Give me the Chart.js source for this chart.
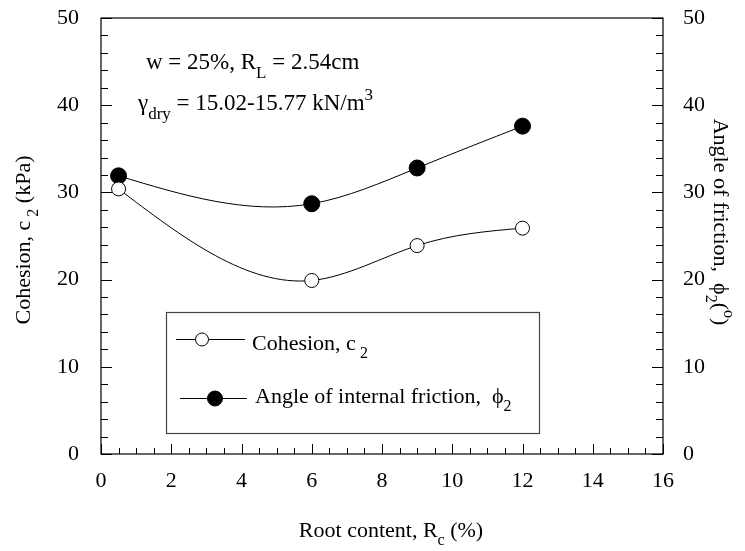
<!DOCTYPE html>
<html>
<head>
<meta charset="utf-8">
<script src="https://cdn.jsdelivr.net/npm/chart.js@4.4.1/dist/chart.umd.min.js"></script>
<style>
  html, body { margin: 0; padding: 0; background: #fff; }
  #wrap { width: 745px; height: 551px; }
</style>
</head>
<body>
<div id="wrap"><canvas id="chart" width="745" height="551"></canvas></div>
<script>
// data
const rootContent = [0.5, 6, 9, 12];
const cohesion = [30.4, 19.9, 23.9, 25.9];
const friction = [31.9, 28.7, 32.8, 37.6];

const xTicks = [0, 2, 4, 6, 8, 10, 12, 14, 16];
const yTicks = [0, 10, 20, 30, 40, 50];

const FONT = "'Liberation Serif', 'Times New Roman', serif";
const PHI = "\u03d5";

// draw text made of plain / sub / sup parts
const richWidth = (ctx, parts, size) => {
  let w = 0;
  parts.forEach((p) => {
    ctx.font = `${p.s ? Math.round(size * 0.72) : size}px ${FONT}`;
    w += ctx.measureText(p.t).width;
  });
  return w;
};

const drawRich = (ctx, parts, x, y, size, align) => {
  const w = richWidth(ctx, parts, size);
  let cx = align === "center" ? x - w / 2 : x;
  ctx.textBaseline = "alphabetic";
  ctx.textAlign = "left";
  parts.forEach((p) => {
    const fs = p.s ? Math.round(size * 0.72) : size;
    ctx.font = `${fs}px ${FONT}`;
    let dy = 0;
    if (p.s === "sub") dy = size * 0.38;
    if (p.s === "sup") dy = -size * 0.45;
    ctx.fillText(p.t, cx, y + dy);
    cx += ctx.measureText(p.t).width;
  });
};

const drawMarker = (ctx, x, y, r, filled) => {
  ctx.beginPath();
  ctx.arc(x, y, r, 0, Math.PI * 2);
  ctx.fillStyle = filled ? "#000" : "#fff";
  ctx.fill();
  ctx.lineWidth = 1;
  ctx.strokeStyle = "#000";
  ctx.stroke();
};

// slopes of a natural cubic spline through (xs, ys)
const naturalSlopes = (xs, ys) => {
  const n = xs.length;
  const h = [], d = [];
  for (let i = 0; i < n - 1; i++) {
    h.push(xs[i + 1] - xs[i]);
    d.push((ys[i + 1] - ys[i]) / h[i]);
  }
  const M = new Array(n).fill(0);
  if (n > 2) {
    const a = [], b = [], c = [], r = [];
    for (let i = 1; i < n - 1; i++) {
      a.push(h[i - 1]);
      b.push(2 * (h[i - 1] + h[i]));
      c.push(h[i]);
      r.push(6 * (d[i] - d[i - 1]));
    }
    const m = b.length;
    for (let i = 1; i < m; i++) {
      const w = a[i] / b[i - 1];
      b[i] -= w * c[i - 1];
      r[i] -= w * r[i - 1];
    }
    const sol = new Array(m);
    sol[m - 1] = r[m - 1] / b[m - 1];
    for (let i = m - 2; i >= 0; i--) sol[i] = (r[i] - c[i] * sol[i + 1]) / b[i];
    for (let i = 0; i < m; i++) M[i + 1] = sol[i];
  }
  const s = [];
  for (let i = 0; i < n - 1; i++) s.push(d[i] - (h[i] * (2 * M[i] + M[i + 1])) / 6);
  s.push(d[n - 2] + (h[n - 2] * (M[n - 2] + 2 * M[n - 1])) / 6);
  return { s, h };
};

// replace Chart.js bezier control points with natural-spline ones
const splinePlugin = {
  id: "naturalSpline",
  beforeDatasetsDraw(chart) {
    chart.data.datasets.forEach((ds, i) => {
      const meta = chart.getDatasetMeta(i);
      const pts = meta.data;
      meta.dataset.updateControlPoints(chart.chartArea, meta.iScale.axis);
      const { s, h } = naturalSlopes(pts.map((p) => p.x), pts.map((p) => p.y));
      pts.forEach((p, k) => {
        const hb = k > 0 ? h[k - 1] : 0;
        const ha = k < pts.length - 1 ? h[k] : 0;
        p.cp1x = p.x - hb / 3;
        p.cp1y = p.y - (s[k] * hb) / 3;
        p.cp2x = p.x + ha / 3;
        p.cp2y = p.y + (s[k] * ha) / 3;
      });
    });
  },
};

const framePlugin = {
  id: "frame",
  afterDraw(chart) {
    const { ctx, chartArea: a, scales } = chart;
    const xs = scales.x, ys = scales.y;
    ctx.save();
    ctx.strokeStyle = "#000";
    ctx.fillStyle = "#000";
    ctx.lineWidth = 1.2;
    ctx.strokeRect(a.left, a.top, a.right - a.left, a.bottom - a.top);

    // inward ticks
    ctx.lineWidth = 1;
    ctx.beginPath();
    for (let v = 0; v <= 16; v += 0.5) {
      const px = Math.round(xs.getPixelForValue(v)) + 0.5;
      const len = v % 2 === 0 ? 10 : 6;
      ctx.moveTo(px, a.bottom);
      ctx.lineTo(px, a.bottom - len);
    }
    for (let v = 0; v <= 50; v += 2) {
      const py = Math.round(ys.getPixelForValue(v)) + 0.5;
      const len = v % 10 === 0 ? 11 : 7;
      ctx.moveTo(a.left, py);
      ctx.lineTo(a.left + len, py);
      ctx.moveTo(a.right, py);
      ctx.lineTo(a.right - len, py);
    }
    ctx.stroke();

    // axis titles
    drawRich(ctx, [{ t: "Root content, R" }, { t: "c", s: "sub" }, { t: " (%)" }], 391, 537, 22, "center");

    ctx.save();
    ctx.translate(30, 240);
    ctx.rotate(-Math.PI / 2);
    drawRich(ctx, [{ t: "Cohesion, c" }, { t: " 2", s: "sub" }, { t: " (kPa)" }], 0, 0, 22, "center");
    ctx.restore();

    ctx.save();
    ctx.translate(714, 222);
    ctx.rotate(Math.PI / 2);
    drawRich(ctx, [{ t: "Angle of friction,  " + PHI }, { t: "2", s: "sub" }, { t: "(" }, { t: "o", s: "sup" }, { t: ")" }], 0, 0, 22, "center");
    ctx.restore();

    // annotations
    drawRich(ctx, [{ t: "w = 25%, R" }, { t: "L", s: "sub" }, { t: " = 2.54cm" }], 146, 69, 23, "left");
    drawRich(ctx, [{ t: "\u03b3" }, { t: "dry", s: "sub" }, { t: " = 15.02-15.77 kN/m" }, { t: "3", s: "sup" }], 138, 110, 23, "left");

    // legend box
    ctx.fillStyle = "#fff";
    ctx.fillRect(166, 312, 373, 121);
    ctx.strokeStyle = "#444";
    ctx.lineWidth = 1.2;
    ctx.strokeRect(166.5, 312.5, 373, 121);
    ctx.strokeStyle = "#000";
    ctx.lineWidth = 1;
    ctx.beginPath();
    ctx.moveTo(176, 339.5); ctx.lineTo(245, 339.5);
    ctx.moveTo(180, 398.5); ctx.lineTo(247, 398.5);
    ctx.stroke();
    drawMarker(ctx, 202, 339.5, 6.5, false);
    drawMarker(ctx, 215, 398.5, 7.5, true);
    ctx.fillStyle = "#000";
    drawRich(ctx, [{ t: "Cohesion, c" }, { t: " 2", s: "sub" }], 252, 350, 22, "left");
    drawRich(ctx, [{ t: "Angle of internal friction,  " + PHI }, { t: "2", s: "sub" }], 255, 403, 22, "left");
    ctx.restore();
  },
};

const toPoints = (ys) => rootContent.map((x, i) => ({ x, y: ys[i] }));

const tickFont = { family: FONT, size: 22 };

const noPadY = (w) => (s) => { s.width = w; s.paddingTop = 0; s.paddingBottom = 0; };

new Chart(document.getElementById("chart"), {
  type: "line",
  data: {
    datasets: [
      {
        label: "Cohesion, c2",
        data: toPoints(cohesion),
        yAxisID: "y",
        borderColor: "#000",
        borderWidth: 1,
        tension: 0.4,
        pointRadius: 7,
        pointBackgroundColor: "#fff",
        pointBorderColor: "#000",
        pointBorderWidth: 1,
      },
      {
        label: "Angle of internal friction",
        data: toPoints(friction),
        yAxisID: "y1",
        borderColor: "#000",
        borderWidth: 1,
        tension: 0.4,
        pointRadius: 8,
        pointBackgroundColor: "#000",
        pointBorderColor: "#000",
        pointBorderWidth: 1,
      },
    ],
  },
  options: {
    responsive: false,
    animation: false,
    devicePixelRatio: 1,
    layout: { padding: { top: 18, left: 0, right: 0, bottom: 0 } },
    plugins: {
      legend: { display: false },
      tooltip: { enabled: false },
    },
    scales: {
      x: {
        type: "linear",
        min: 0,
        max: 16,
        grid: { display: false },
        border: { display: false },
        afterBuildTicks: (s) => { s.ticks = xTicks.map((v) => ({ value: v })); },
        ticks: { font: tickFont, color: "#000", padding: 6, maxRotation: 0 },
        afterFit: (s) => { s.height = 97; s.paddingLeft = 0; s.paddingRight = 0; },
      },
      y: {
        position: "left",
        min: 0,
        max: 50,
        grid: { display: false },
        border: { display: false },
        afterBuildTicks: (s) => { s.ticks = yTicks.map((v) => ({ value: v })); },
        ticks: { font: tickFont, color: "#000", padding: 14 },
        afterFit: noPadY(101),
      },
      y1: {
        position: "right",
        min: 0,
        max: 50,
        grid: { display: false },
        border: { display: false },
        afterBuildTicks: (s) => { s.ticks = yTicks.map((v) => ({ value: v })); },
        ticks: { font: tickFont, color: "#000", padding: 12 },
        afterFit: noPadY(82),
      },
    },
  },
  plugins: [splinePlugin, framePlugin],
});
</script>
</body>
</html>
